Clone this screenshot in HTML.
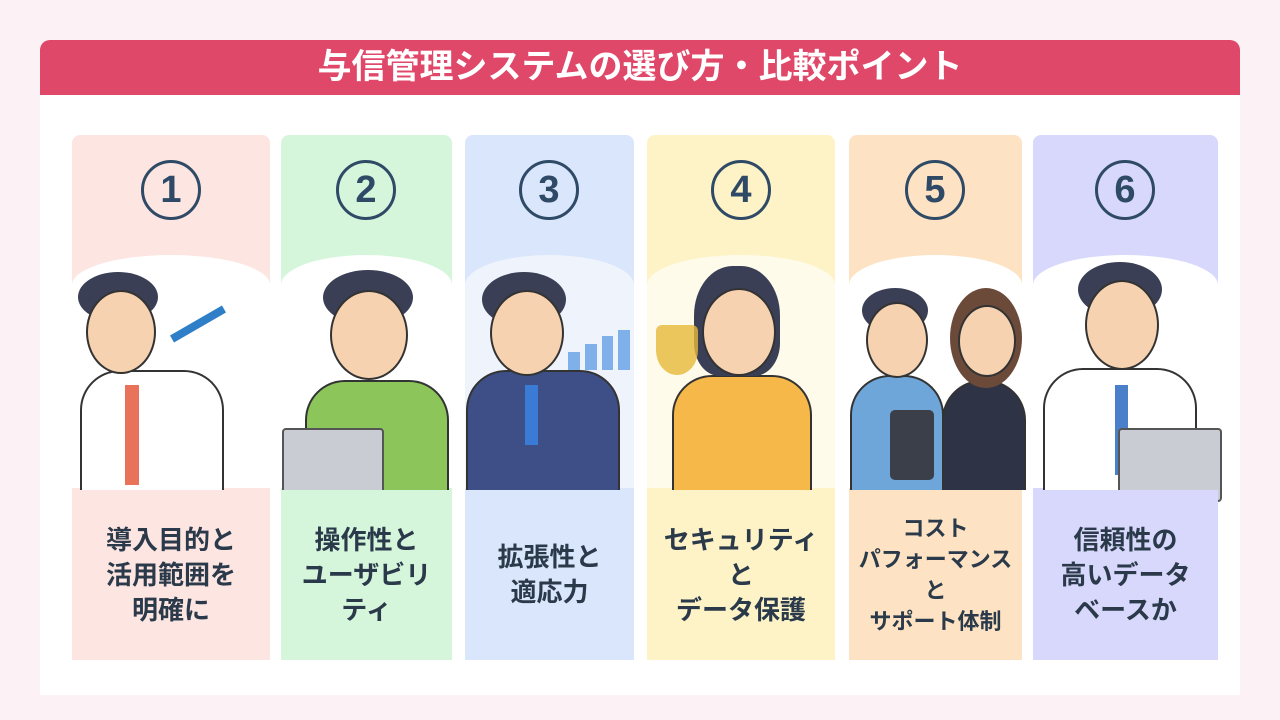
<!DOCTYPE html>
<html><head><meta charset="utf-8"><style>
body{margin:0;width:1280px;height:720px;background:#fcf1f4;font-family:"Liberation Sans","Noto Sans CJK JP",sans-serif;position:relative;overflow:hidden}
.hdr{position:absolute;left:40px;top:40px;width:1200px;height:55px;background:#e0486a;border-radius:10px 10px 0 0;color:#fff;font-size:34px;font-weight:bold;text-align:center;line-height:55px}
.main{position:absolute;left:40px;top:95px;width:1200px;height:600px;background:#fff}
.col{position:absolute;top:135px;height:525px;border-radius:8px}
.num{position:absolute;top:160px;width:54px;height:54px;border:3px solid #2f4a66;border-radius:50%;color:#2f4a66;font-size:38px;font-weight:900;text-align:center;line-height:54px}
.ill{position:absolute;top:255px;height:233px;background:#fff;border-radius:50% 50% 0 0/30px 30px 0 0}
.txt{position:absolute;top:490px;height:170px;display:flex;align-items:center;justify-content:center;text-align:center;font-weight:bold;font-size:26px;line-height:35px;color:#2b3a4a;white-space:nowrap}
.hair{position:absolute;background:#3a3f55;border-radius:50%}
.face{position:absolute;background:#f7d2b0;border-radius:50%;border:2px solid #333}
.body{position:absolute;border-radius:40px 40px 0 0;border:2px solid #333;border-bottom:none}
</style></head><body>
<div class="hdr">与信管理システムの選び方・比較ポイント</div>
<div class="main"></div>

<div class="col" style="left:72px;width:198px;background:#fde5e2"></div>
<div class="col" style="left:281px;width:171px;background:#d6f6dc"></div>
<div class="col" style="left:465px;width:169px;background:#d9e6fb"></div>
<div class="col" style="left:647px;width:188px;background:#fdf3c6"></div>
<div class="col" style="left:849px;width:173px;background:#fde3c3"></div>
<div class="col" style="left:1033px;width:185px;background:#d7d8fb"></div>

<div class="num" style="left:141px">1</div>
<div class="num" style="left:336px">2</div>
<div class="num" style="left:519px">3</div>
<div class="num" style="left:711px">4</div>
<div class="num" style="left:905px">5</div>
<div class="num" style="left:1095px">6</div>

<div class="ill" style="left:72px;width:198px"></div>
<div class="ill" style="left:281px;width:171px"></div>
<div class="ill" style="left:465px;width:169px;background:#eef3fc"></div>
<div class="ill" style="left:647px;width:188px;background:#fffbea"></div>
<div class="ill" style="left:849px;width:173px"></div>
<div class="ill" style="left:1033px;width:185px"></div>

<div class="body" style="left:80px;top:370px;width:140px;height:118px;background:#fff"></div>
<div class="hair" style="left:78px;top:272px;width:80px;height:50px"></div>
<div class="face" style="left:86px;top:290px;width:66px;height:80px"></div>
<div style="position:absolute;left:125px;top:385px;width:14px;height:100px;background:#e9735a"></div>
<div style="position:absolute;left:168px;top:320px;width:60px;height:8px;background:#2f7fc8;transform:rotate(-30deg)"></div>

<div class="body" style="left:305px;top:380px;width:140px;height:108px;background:#8cc65a"></div>
<div class="hair" style="left:323px;top:270px;width:90px;height:55px"></div>
<div class="face" style="left:330px;top:290px;width:74px;height:86px"></div>
<div style="position:absolute;left:282px;top:428px;width:98px;height:68px;background:#c9ccd2;border:2px solid #555;border-radius:4px"></div>

<div class="body" style="left:466px;top:370px;width:150px;height:118px;background:#3d4f86"></div>
<div class="hair" style="left:482px;top:272px;width:84px;height:55px"></div>
<div class="face" style="left:490px;top:290px;width:70px;height:82px"></div>
<div style="position:absolute;left:525px;top:385px;width:13px;height:60px;background:#3a7bd5"></div>
<div style="position:absolute;left:568px;top:330px;width:62px;height:40px;display:flex;gap:5px;align-items:flex-end"><div style="width:12px;height:18px;background:#7fb0ea"></div><div style="width:12px;height:26px;background:#7fb0ea"></div><div style="width:12px;height:34px;background:#7fb0ea"></div><div style="width:12px;height:40px;background:#7fb0ea"></div></div>

<div class="body" style="left:672px;top:375px;width:136px;height:113px;background:#f7b84a"></div>
<div class="hair" style="left:694px;top:266px;width:86px;height:110px;border-radius:45% 45% 30% 30%"></div>
<div class="face" style="left:702px;top:288px;width:70px;height:84px"></div>
<div style="position:absolute;left:656px;top:325px;width:42px;height:50px;background:#e6b93a;border-radius:6px 6px 50% 50%;opacity:.8"></div>

<div class="body" style="left:850px;top:375px;width:90px;height:113px;background:#6ea6d9"></div>
<div class="hair" style="left:862px;top:288px;width:66px;height:45px"></div>
<div class="face" style="left:866px;top:302px;width:58px;height:72px"></div>
<div class="body" style="left:942px;top:380px;width:80px;height:108px;background:#2e3346"></div>
<div class="hair" style="left:950px;top:288px;width:72px;height:100px;background:#6b4a3a"></div>
<div class="face" style="left:958px;top:305px;width:54px;height:68px"></div>
<div style="position:absolute;left:890px;top:410px;width:44px;height:70px;background:#3a3f4a;border-radius:5px"></div>

<div class="body" style="left:1043px;top:368px;width:150px;height:120px;background:#fff"></div>
<div class="hair" style="left:1078px;top:262px;width:84px;height:55px"></div>
<div class="face" style="left:1085px;top:280px;width:70px;height:86px"></div>
<div style="position:absolute;left:1115px;top:385px;width:13px;height:90px;background:#4a7fc9"></div>
<div style="position:absolute;left:1118px;top:428px;width:100px;height:70px;background:#c9ccd2;border:2px solid #555;border-radius:4px"></div>

<div class="txt" style="left:72px;width:198px;background:#fde5e2">導入目的と<br>活用範囲を<br>明確に</div>
<div class="txt" style="left:281px;width:171px;background:#d6f6dc">操作性と<br>ユーザビリ<br>ティ</div>
<div class="txt" style="left:465px;width:169px;background:#d9e6fb">拡張性と<br>適応力</div>
<div class="txt" style="left:647px;width:188px;background:#fdf3c6">セキュリティ<br>と<br>データ保護</div>
<div class="txt" style="left:849px;width:173px;background:#fde3c3;font-size:22px;line-height:31px">コスト<br>パフォーマンス<br>と<br>サポート体制</div>
<div class="txt" style="left:1033px;width:185px;background:#d7d8fb">信頼性の<br>高いデータ<br>ベースか</div>
</body></html>
